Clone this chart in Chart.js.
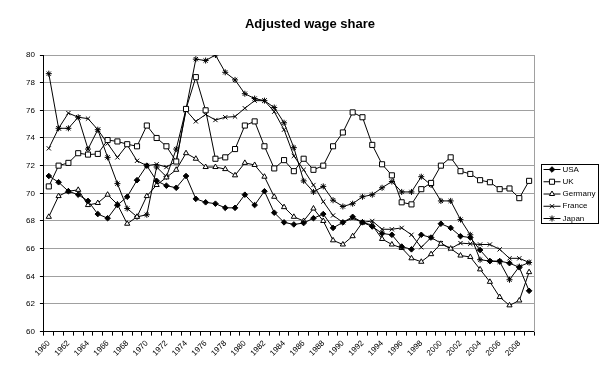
<!DOCTYPE html>
<html>
<head>
<meta charset="utf-8">
<title>Adjusted wage share</title>
<script src="https://cdn.jsdelivr.net/npm/chart.js@4.4.1/dist/chart.umd.min.js"></script>
<style>
  body { margin: 0; background: #fff; }
  #wrap { width: 614px; height: 376px; }
</style>
</head>
<body>
<div id="wrap"><canvas id="wageChart" width="614" height="376"></canvas></div>
<script>
// years on the category axis, a label is shown on every second one
const years = ['1960', '1961', '1962', '1963', '1964', '1965', '1966', '1967', '1968', '1969',
  '1970', '1971', '1972', '1973', '1974', '1975', '1976', '1977', '1978', '1979',
  '1980', '1981', '1982', '1983', '1984', '1985', '1986', '1987', '1988', '1989',
  '1990', '1991', '1992', '1993', '1994', '1995', '1996', '1997', '1998', '1999',
  '2000', '2001', '2002', '2003', '2004', '2005', '2006', '2007', '2008', '2009'];
const labelEvery = 2;

// value axis
const yMin = 60;
const yMax = 80;
const yStep = 2;

const chartTitle = 'Adjusted wage share';

// adjusted wage share, %
const usa = [71.25, 70.8, 70.15, 69.9, 69.45, 68.5, 68.2, 69.15, 69.75, 70.95,
  72.0, 70.9, 70.55, 70.4, 71.25, 69.6, 69.35, 69.25, 68.95, 68.95,
  69.9, 69.15, 70.15, 68.6, 67.9, 67.75, 67.85, 68.2, 68.5, 67.5,
  67.9, 68.3, 67.9, 67.6, 67.1, 67.0, 66.15, 65.95, 67.0, 66.8,
  67.8, 67.5, 66.9, 66.8, 65.9, 65.1, 65.1, 64.95, 64.65, 62.95];
const uk = [70.5, 72.0, 72.2, 72.9, 72.8, 72.85, 73.85, 73.75, 73.55, 73.4,
  74.9, 74.0, 73.4, 72.3, 76.1, 78.4, 76.0, 72.5, 72.6, 73.2,
  74.9, 75.2, 73.4, 71.8, 72.4, 71.6, 72.5, 71.7, 72.0, 73.4,
  74.4, 75.85, 75.5, 73.5, 72.1, 71.3, 69.35, 69.2, 70.3, 70.75,
  72.0, 72.6, 71.6, 71.4, 70.95, 70.8, 70.3, 70.35, 69.65, 70.9];
const germany = [68.3, 69.8, 70.15, 70.25, 69.15, 69.3, 69.9, 69.2, 67.8, 68.3,
  69.8, 70.6, 71.15, 71.7, 72.9, 72.5, 71.9, 71.9, 71.75, 71.3,
  72.2, 72.05, 71.2, 69.75, 69.0, 68.3, 68.0, 68.9, 68.0, 66.6,
  66.3, 66.9, 67.9, 67.7, 66.7, 66.3, 66.05, 65.3, 65.05, 65.6,
  66.35, 66.0, 65.5, 65.4, 64.5, 63.6, 62.5, 61.9, 62.25, 64.3];
const france = [73.25, 74.7, 75.8, 75.5, 75.4, 74.6, 73.6, 72.6, 73.5, 72.35,
  72.0, 72.1, 71.9, 72.3, 76.0, 75.2, 75.7, 75.3, 75.5, 75.55,
  76.15, 76.7, 76.7, 75.9, 74.6, 72.7, 71.7, 70.6, 69.4, 68.4,
  67.9, 68.2, 67.9, 68.0, 67.4, 67.4, 67.5, 67.0, 66.1, 66.8,
  66.4, 66.0, 66.4, 66.35, 66.3, 66.3, 65.95, 65.3, 65.3, 65.0];
const japan = [78.65, 74.7, 74.7, 75.5, 73.2, 74.6, 72.6, 70.7, 68.9, 68.3,
  68.45, 71.9, 71.2, 73.2, 76.1, 79.7, 79.6, 80.0, 78.75, 78.2,
  77.2, 76.85, 76.7, 76.2, 75.1, 73.3, 70.9, 70.1, 70.5, 69.5,
  69.05, 69.25, 69.75, 69.9, 70.4, 70.85, 70.1, 70.1, 71.2, 70.6,
  69.45, 69.45, 68.1, 67.0, 65.2, 65.1, 65.05, 63.75, 64.7, 65.0];

const fontFamily = "'Liberation Sans', Arial, sans-serif";

function series(label, data, style, fill, radius) {
  return {
    label: label,
    data: data,
    borderColor: '#000',
    borderWidth: 1,
    pointStyle: style,
    pointRadius: radius,
    pointBorderColor: '#000',
    pointBackgroundColor: fill,
    pointBorderWidth: 1,
    tension: 0
  };
}

// title, grey frame on the right of the plot + the boxed legend at the right
const boxedLegend = {
  id: 'boxedLegend',
  afterDraw(chart) {
    const ctx = chart.ctx;
    const area = chart.chartArea;
    const sets = chart.data.datasets;
    ctx.save();

    // title sits a bit right of the canvas middle, like the original
    ctx.fillStyle = '#000';
    ctx.font = 'bold 13px ' + fontFamily;
    ctx.textAlign = 'center';
    ctx.textBaseline = 'middle';
    ctx.fillText(chartTitle, 310, 24.5);

    ctx.strokeStyle = '#a0a0a0';
    ctx.lineWidth = 1;
    ctx.beginPath();
    ctx.moveTo(Math.round(area.right) + 0.5, Math.round(area.top));
    ctx.lineTo(Math.round(area.right) + 0.5, Math.round(area.bottom));
    ctx.stroke();

    const rowH = 12.25;
    const boxW = 57;
    const boxH = (sets.length - 1) * rowH + 10;
    const left = Math.round(area.right + 7) + 0.5;
    const top = Math.round((area.top + area.bottom) / 2 - boxH / 2) + 0.5;
    ctx.strokeStyle = '#000';
    ctx.strokeRect(left, top, boxW, boxH);

    ctx.font = '8px ' + fontFamily;
    ctx.textBaseline = 'middle';
    ctx.textAlign = 'left';
    sets.forEach((ds, i) => {
      const y = top + 5 + i * rowH;
      ctx.strokeStyle = '#000';
      ctx.beginPath();
      ctx.moveTo(left + 2, y);
      ctx.lineTo(left + 19, y);
      ctx.stroke();
      ctx.fillStyle = ds.pointBackgroundColor;
      ctx.strokeStyle = '#000';
      ctx.lineWidth = 1;
      if (Chart.helpers && Chart.helpers.drawPoint) {
        Chart.helpers.drawPoint(ctx, { pointStyle: ds.pointStyle, radius: ds.pointRadius, borderWidth: 1, rotation: 0 }, left + 10.5, y);
      }
      ctx.fillStyle = '#000';
      ctx.fillText(ds.label, left + 21, y);
    });
    ctx.restore();
  }
};

new Chart(document.getElementById('wageChart'), {
  type: 'line',
  data: {
    labels: years,
    datasets: [
      series('USA', usa, 'rectRot', '#000', 2.8),
      series('UK', uk, 'rect', '#fff', 3.6),
      series('Germany', germany, 'triangle', '#fff', 3),
      series('France', france, 'crossRot', '#fff', 3),
      series('Japan', japan, 'star', '#fff', 3)
    ]
  },
  options: {
    responsive: false,
    animation: false,
    layout: { padding: { left: 21, right: 80, top: 55, bottom: 15 } },
    plugins: {
      legend: { display: false },
      tooltip: { enabled: false },
      title: { display: false }
    },
    scales: {
      x: {
        offset: true,
        grid: { offset: true, drawOnChartArea: false, tickLength: 4, color: '#000' },
        border: { color: '#000' },
        ticks: {
          autoSkip: false,
          minRotation: 45,
          maxRotation: 45,
          padding: 3,
          color: '#000',
          font: { family: fontFamily, size: 8 },
          callback: (v, i) => (i % labelEvery === 0 ? years[i] : '')
        }
      },
      y: {
        min: yMin,
        max: yMax,
        border: { color: '#000' },
        grid: { color: '#a0a0a0', tickColor: '#000', tickLength: 4 },
        ticks: {
          stepSize: yStep,
          padding: 5,
          color: '#000',
          font: { family: fontFamily, size: 8 }
        }
      }
    }
  },
  plugins: [boxedLegend]
});
</script>
</body>
</html>
